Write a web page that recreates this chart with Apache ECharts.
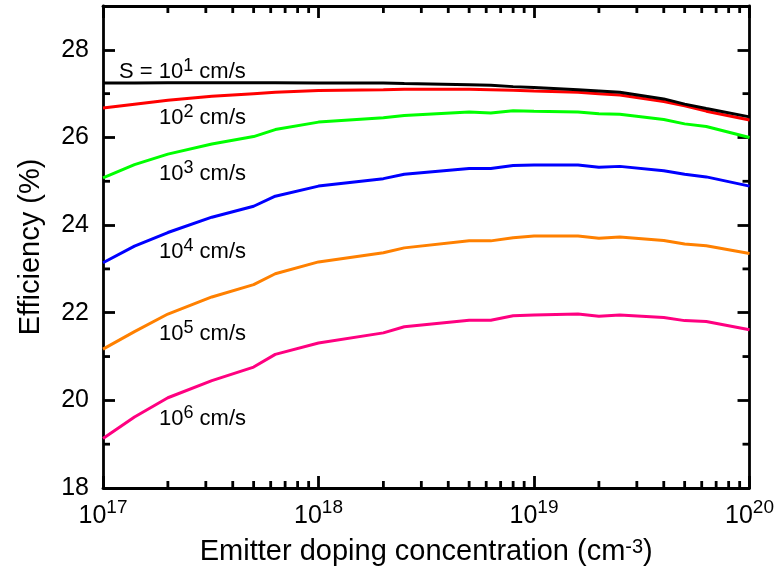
<!DOCTYPE html>
<html>
<head>
<meta charset="utf-8">
<script src="https://cdn.jsdelivr.net/npm/echarts@6/dist/echarts.min.js"></script>
<style>
  html, body { margin: 0; padding: 0; background: #fff; }
  #chart { width: 777px; height: 577px; }
</style>
</head>
<body>
<div id="chart"></div>
<script>
// Emitter doping concentration (cm^-3)
const doping = [1e17, 1.4e17, 2e17, 3.2e17, 5e17, 6.3e17, 1e18, 2e18, 2.5e18, 5e18,
                6.3e18, 8e18, 1e19, 1.6e19, 2e19, 2.5e19, 4e19, 5e19, 6.3e19, 1e20];

// Efficiency (%) for each surface recombination velocity S
const effS1e1 = [27.24, 27.24, 27.25, 27.25, 27.25, 27.25, 27.24, 27.24, 27.23, 27.20,
                 27.19, 27.16, 27.14, 27.09, 27.06, 27.03, 26.88, 26.76, 26.66, 26.47];
const effS1e2 = [26.67, 26.76, 26.85, 26.94, 27.00, 27.03, 27.07, 27.09, 27.10, 27.10,
                 27.09, 27.08, 27.06, 27.03, 27.00, 26.97, 26.82, 26.72, 26.60, 26.40];
const effS1e3 = [25.08, 25.38, 25.62, 25.85, 26.02, 26.18, 26.35, 26.45, 26.50, 26.58,
                 26.56, 26.61, 26.60, 26.58, 26.54, 26.53, 26.41, 26.31, 26.25, 26.00];
const effS1e4 = [23.14, 23.52, 23.83, 24.18, 24.43, 24.66, 24.89, 25.06, 25.16, 25.29,
                 25.29, 25.36, 25.37, 25.37, 25.32, 25.34, 25.24, 25.16, 25.10, 24.89];
const effS1e5 = [21.17, 21.57, 21.97, 22.36, 22.64, 22.89, 23.16, 23.37, 23.48, 23.64,
                 23.64, 23.71, 23.75, 23.75, 23.70, 23.73, 23.65, 23.57, 23.53, 23.35];
const effS1e6 = [19.13, 19.62, 20.06, 20.45, 20.76, 21.05, 21.31, 21.54, 21.68, 21.83,
                 21.83, 21.93, 21.95, 21.97, 21.92, 21.95, 21.89, 21.82, 21.80, 21.61];

const seriesExponents = [1, 2, 3, 4, 5, 6];
const seriesValues = [effS1e1, effS1e2, effS1e3, effS1e4, effS1e5, effS1e6];
const seriesColors = ['#000000', '#ff0000', '#00ff00', '#0000ff', '#ff8000', '#ff0080'];

// Axis ranges and tick values
const xMin = 1e17, xMax = 1e20;
const yMin = 18, yMax = 29, yStep = 2;
const yMinorTicks = [19, 21, 23, 25, 27];
const xMinorTicks = [];
[1e17, 1e18, 1e19].forEach(dec => {
  for (let k = 2; k <= 9; k++) xMinorTicks.push(k * dec);
});

const FONT = '"Liberation Sans", Arial, Helvetica, sans-serif';
const LINE_W = 3;
const AXIS_W = 2.8;
const MAJOR_LEN = 12;
const MINOR_LEN = 6;

const chart = echarts.init(document.getElementById('chart'), null, { renderer: 'canvas' });

const pairs = vals => doping.map((x, i) => [x, vals[i]]);

const lineSeries = seriesValues.map((vals, i) => ({
  name: 'S = 1e' + seriesExponents[i],
  type: 'line',
  data: pairs(vals),
  showSymbol: false,
  smooth: false,
  lineStyle: { color: seriesColors[i], width: LINE_W },
  itemStyle: { color: seriesColors[i] },
  z: 3 + (seriesValues.length - i)
}));

// minor ticks on the log x axes (bottom and top)
const xMinorSeries = {
  type: 'custom',
  silent: true,
  clip: false,
  z: 20,
  xAxisIndex: 0, yAxisIndex: 0,
  data: xMinorTicks.map(v => [v, yMin]),
  encode: { x: 0, y: 1 },
  renderItem(params, api) {
    const v = api.value(0);
    const b = api.coord([v, yMin]);
    const t = api.coord([v, yMax]);
    const st = { stroke: '#000', lineWidth: AXIS_W };
    return {
      type: 'group',
      children: [
        { type: 'line', shape: { x1: b[0], y1: b[1], x2: b[0], y2: b[1] - MINOR_LEN - 1 }, style: st },
        { type: 'line', shape: { x1: t[0], y1: t[1], x2: t[0], y2: t[1] + MINOR_LEN + 1 }, style: st }
      ]
    };
  }
};

// minor ticks on the y axes (left and right)
const yMinorSeries = {
  type: 'custom',
  silent: true,
  clip: false,
  z: 20,
  xAxisIndex: 0, yAxisIndex: 0,
  data: yMinorTicks.map(v => [xMin, v]),
  encode: { x: 0, y: 1 },
  renderItem(params, api) {
    const v = api.value(1);
    const l = api.coord([xMin, v]);
    const r = api.coord([xMax, v]);
    const st = { stroke: '#000', lineWidth: AXIS_W };
    return {
      type: 'group',
      children: [
        { type: 'line', shape: { x1: l[0], y1: l[1], x2: l[0] + MINOR_LEN + 1, y2: l[1] }, style: st },
        { type: 'line', shape: { x1: r[0], y1: r[1], x2: r[0] - MINOR_LEN - 1, y2: r[1] }, style: st }
      ]
    };
  }
};

const axisLineStyle = { lineStyle: { color: '#000', width: AXIS_W } };
const tickStyle = { show: true, inside: true, length: MAJOR_LEN, lineStyle: { color: '#000', width: AXIS_W } };

const supRich = (baseSize, supSize, lh) => ({
  b: { fontFamily: FONT, fontSize: baseSize, color: '#000', lineHeight: lh, verticalAlign: 'bottom' },
  s: { fontFamily: FONT, fontSize: supSize, color: '#000', lineHeight: supSize, verticalAlign: 'top' }
});

const option = {
  animation: false,
  backgroundColor: '#fff',
  grid: { left: 103, right: 26, top: 6, bottom: 89, containLabel: false },
  xAxis: [
    {
      type: 'log', logBase: 10, min: xMin, max: xMax, position: 'bottom',
      axisLine: axisLineStyle, axisTick: tickStyle, splitLine: { show: false },
      minorTick: { show: false },
      axisLabel: {
        margin: 10,
        formatter: v => '{b|10}{s|' + Math.round(Math.log10(v)) + '}',
        rich: supRich(25, 19, 31)
      },
      name: 'Emitter doping concentration (cm{s|-3})',
      nameLocation: 'middle',
      nameGap: 49,
      nameTextStyle: {
        fontFamily: FONT, fontSize: 29, color: '#000',
        rich: {
          s: { fontFamily: FONT, fontSize: 20, color: '#000', verticalAlign: 'top', lineHeight: 20 }
        }
      }
    },
    {
      type: 'log', logBase: 10, min: xMin, max: xMax, position: 'top',
      axisLine: axisLineStyle, axisTick: tickStyle, axisLabel: { show: false },
      splitLine: { show: false }
    }
  ],
  yAxis: [
    {
      type: 'value', min: yMin, max: yMax, interval: yStep, position: 'left',
      axisLine: { show: true, ...axisLineStyle }, axisTick: tickStyle, splitLine: { show: false },
      axisLabel: { fontFamily: FONT, fontSize: 25, color: '#000', margin: 14, showMaxLabel: false },
      name: 'Efficiency (%)',
      nameLocation: 'middle',
      nameGap: 58,
      nameTextStyle: { fontFamily: FONT, fontSize: 29, color: '#000' }
    },
    {
      type: 'value', min: yMin, max: yMax, interval: yStep, position: 'right',
      axisLine: { show: true, ...axisLineStyle }, axisTick: tickStyle, splitLine: { show: false },
      axisLabel: { show: false }
    }
  ],
  series: [...lineSeries, xMinorSeries, yMinorSeries]
};

chart.setOption(option);

// curve annotations: S values next to each curve
const labelSpecs = [
  { text: '{b|S = 10}{s|1}{b| cm/s}', left: 119, top: 57 },
  { text: '{b|10}{s|2}{b| cm/s}', left: 159, top: 103 },
  { text: '{b|10}{s|3}{b| cm/s}', left: 159, top: 159 },
  { text: '{b|10}{s|4}{b| cm/s}', left: 159, top: 237 },
  { text: '{b|10}{s|5}{b| cm/s}', left: 159, top: 319 },
  { text: '{b|10}{s|6}{b| cm/s}', left: 159, top: 404 }
];

chart.setOption({
  graphic: labelSpecs.map(l => ({
    type: 'text',
    left: l.left,
    top: l.top,
    z: 30,
    style: {
      text: l.text,
      rich: supRich(22, 18, 26)
    }
  }))
});
</script>
</body>
</html>
